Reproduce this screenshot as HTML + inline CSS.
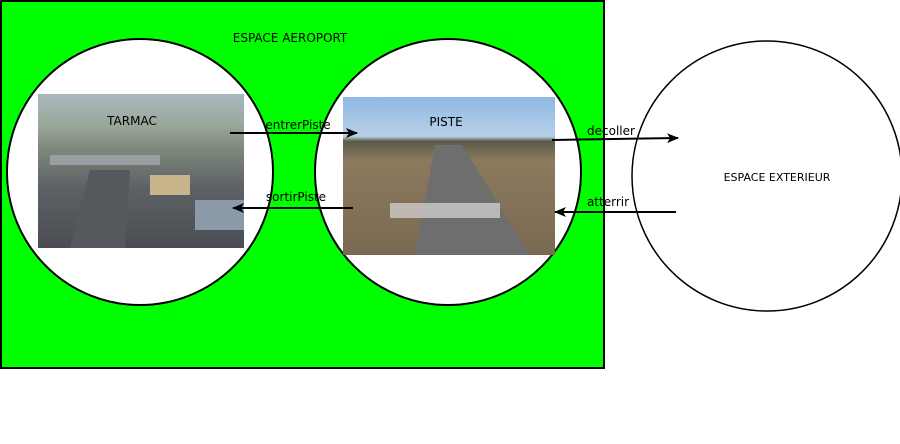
<!DOCTYPE html>
<html><head><meta charset="utf-8"><style>
html,body{margin:0;padding:0;background:#fff;}
svg{display:block;font-family:"DejaVu Sans","Liberation Sans",sans-serif;}
</style></head><body>
<svg width="900" height="444" viewBox="0 0 900 444">
<defs>
<marker id="ah" markerWidth="12" markerHeight="10" refX="11" refY="5" orient="auto" markerUnits="userSpaceOnUse">
<path d="M0,0 L12,5 L0,10 L3,5 Z" fill="#000"/></marker>
<linearGradient id="tarmacG" x1="0" y1="0" x2="0" y2="1">
<stop offset="0" stop-color="#a8b8bc"/><stop offset="0.2" stop-color="#9aa89a"/>
<stop offset="0.35" stop-color="#7f8a7c"/><stop offset="0.6" stop-color="#5e6266"/><stop offset="1" stop-color="#4a4c52"/></linearGradient>
<linearGradient id="pisteG" x1="0" y1="0" x2="0" y2="1">
<stop offset="0" stop-color="#8fb8e4"/><stop offset="0.25" stop-color="#b8d0e8"/>
<stop offset="0.28" stop-color="#5a5a48"/><stop offset="0.4" stop-color="#8c7a5e"/><stop offset="1" stop-color="#7a6a52"/></linearGradient>
</defs>
<rect x="1" y="1" width="603" height="367" fill="#00ff00" stroke="#000" stroke-width="2"/>
<text x="290" y="42" font-size="12" text-anchor="middle">ESPACE AEROPORT</text>
<circle cx="140" cy="172" r="133" fill="#fff" stroke="#000" stroke-width="2"/>
<circle cx="448" cy="172" r="133" fill="#fff" stroke="#000" stroke-width="2"/>
<circle cx="767" cy="176" r="135" fill="#fff" stroke="#000" stroke-width="1.5"/>
<g>
<rect x="38" y="94" width="206" height="154" fill="url(#tarmacG)"/>
<rect x="50" y="155" width="110" height="10" fill="#9a9ea4"/>
<polygon points="70,248 90,170 130,170 125,248" fill="#55585c"/>
<rect x="150" y="175" width="40" height="20" fill="#c8b48a"/>
<rect x="195" y="200" width="49" height="30" fill="#8a9aa8"/>
</g>
<g>
<rect x="343" y="97" width="212" height="158" fill="url(#pisteG)"/>
<polygon points="415,255 435,145 462,145 530,255" fill="#6e6e6e"/>
<rect x="390" y="203" width="110" height="15" fill="#d8d8d8" opacity="0.7"/>
</g>
<text x="132" y="125" font-size="12" text-anchor="middle">TARMAC</text>
<text x="446" y="126" font-size="12" text-anchor="middle">PISTE</text>
<text x="777" y="181" font-size="11" text-anchor="middle">ESPACE EXTERIEUR</text>
<line x1="230" y1="133" x2="357" y2="133" stroke="#000" stroke-width="2" marker-end="url(#ah)"/>
<text x="298" y="129" font-size="12" text-anchor="middle">entrerPiste</text>
<line x1="353" y1="208" x2="233" y2="208" stroke="#000" stroke-width="2" marker-end="url(#ah)"/>
<text x="296" y="201" font-size="12" text-anchor="middle">sortirPiste</text>
<line x1="552" y1="140" x2="678" y2="138" stroke="#000" stroke-width="2" marker-end="url(#ah)"/>
<text x="611" y="135" font-size="12" text-anchor="middle">decoller</text>
<line x1="676" y1="212" x2="555" y2="212" stroke="#000" stroke-width="2" marker-end="url(#ah)"/>
<text x="608" y="206" font-size="12" text-anchor="middle">atterrir</text>
</svg>
</body></html>
